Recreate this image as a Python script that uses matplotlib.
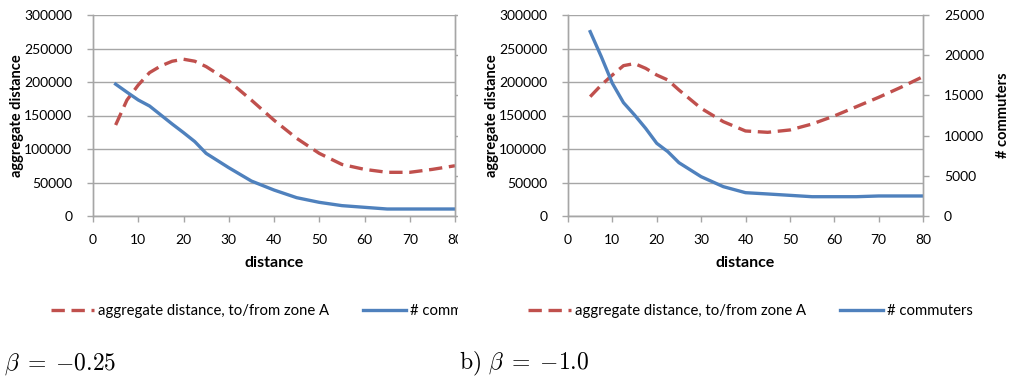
import matplotlib
matplotlib.use("Agg")
import matplotlib.pyplot as plt
from matplotlib.patches import Rectangle

plt.rcParams['font.family'] = ['Lato', 'DejaVu Sans']
plt.rcParams['mathtext.fontset'] = 'cm'

# distance steps (same for both runs)
dist = [5, 7.5, 10, 12.5, 15, 17.5, 20, 22.5, 25, 30, 35, 40, 45, 50, 55, 60, 65, 70, 75, 80]

# a) beta = -0.25
agg_a = [135800, 173000, 195500, 214000, 224000, 231000, 234000, 231000, 223000, 201500,
         173000, 143000, 116000, 93500, 77000, 69600, 65200, 65200, 69600, 75000]
comm_a = [16400, 15400, 14430, 13680, 12560, 11440, 10370, 9250, 7790, 6010,
          4350, 3230, 2280, 1700, 1290, 1080, 870, 870, 870, 870]

# b) beta = -1.0
agg_b = [178100, 195500, 210400, 224400, 227500, 220400, 210400, 203000, 188100, 160700,
         140800, 126900, 124900, 128400, 137300, 149300, 163200, 177100, 192000, 208000]
comm_b = [22930, 19820, 16500, 14100, 12560, 10900, 9040, 8000, 6630, 4890,
          3650, 2900, 2740, 2570, 2400, 2400, 2400, 2490, 2490, 2490]

RED = '#c0504d'
BLUE = '#4f81bd'
GRID = '#a6a6a6'
W, H = 1011, 379

fig = plt.figure(figsize=(W / 100, H / 100), dpi=100)


def fx(px):
    return px / W


def fy(py):
    return 1 - py / H


def panel(x0, x1, agg, comm, ylab_x, right_lab_x, legend_x):
    width = x1 - x0
    ax = fig.add_axes([fx(x0), fy(216), fx(width), 201 / H])
    ax2 = ax.twinx()
    l1, = ax.plot(dist, agg, color=RED, lw=2.4, dashes=(4, 2))
    l2, = ax2.plot(dist, comm, color=BLUE, lw=2.4)
    ax.set_xlim(0, 80)
    ax.set_ylim(0, 300000)
    ax2.set_ylim(0, 25000)
    ax.set_xticks(range(0, 81, 10))
    ax.set_yticks(range(0, 300001, 50000))
    ax2.set_yticks(range(0, 25001, 5000))
    ax.yaxis.grid(True, color=GRID, lw=1)
    ax.set_axisbelow(True)
    for a in (ax, ax2):
        a.spines['top'].set_visible(False)
        for s in ('left', 'right', 'bottom'):
            a.spines[s].set_color(GRID)
            a.spines[s].set_linewidth(1)
        a.tick_params(colors=GRID, labelcolor='black', labelsize=10,
                      length=4, width=1, pad=11)
    ax.tick_params(axis='x', pad=9)

    ax.set_xlabel('distance', fontsize=11.5, fontweight='bold', va='center')
    ax.xaxis.set_label_coords(0.5, (216 - 263) / 201)
    ax.set_ylabel('aggregate distance', fontsize=10.5, fontweight='bold', va='center')
    ax.yaxis.set_label_coords((ylab_x - x0) / width, 0.5)
    if right_lab_x is not None:
        ax2.set_ylabel('# commuters', fontsize=10.5, fontweight='bold', va='center')
        ax2.yaxis.set_label_coords((right_lab_x - x0) / width, 0.5)
    else:
        ax2.tick_params(labelright=False)
    fig.legend([l1, l2], ['aggregate distance, to/from zone A', '# commuters'],
               loc='center left', bbox_to_anchor=(fx(legend_x), fy(311)),
               ncol=2, frameon=False, fontsize=10.7, handlelength=2.9,
               handletextpad=0.25, columnspacing=2.3, borderaxespad=0, borderpad=0)
    return ax


panel(93, 455, agg_a, comm_a, 17, None, 51)
panel(568, 923, agg_b, comm_b, 492, 1003, 528)

# the left picture is cut off at its right edge
fig.patches.append(Rectangle((fx(458), fy(290)), fx(20), 290 / H, transform=fig.transFigure,
                             facecolor='white', edgecolor='none', zorder=10))
fig.patches.append(Rectangle((fx(458), fy(335)), fx(68), 45 / H, transform=fig.transFigure,
                             facecolor='white', edgecolor='none', zorder=10))

fig.text(fx(4), fy(364), r'$\beta\;=\;{-}0.25$', fontsize=17, va='center', ha='left')
fig.text(fx(459), fy(364), r'$\mathrm{b)}\ \beta\;=\;{-}1.0$', fontsize=17, va='center', ha='left')

fig.savefig('out.png', dpi=100)
